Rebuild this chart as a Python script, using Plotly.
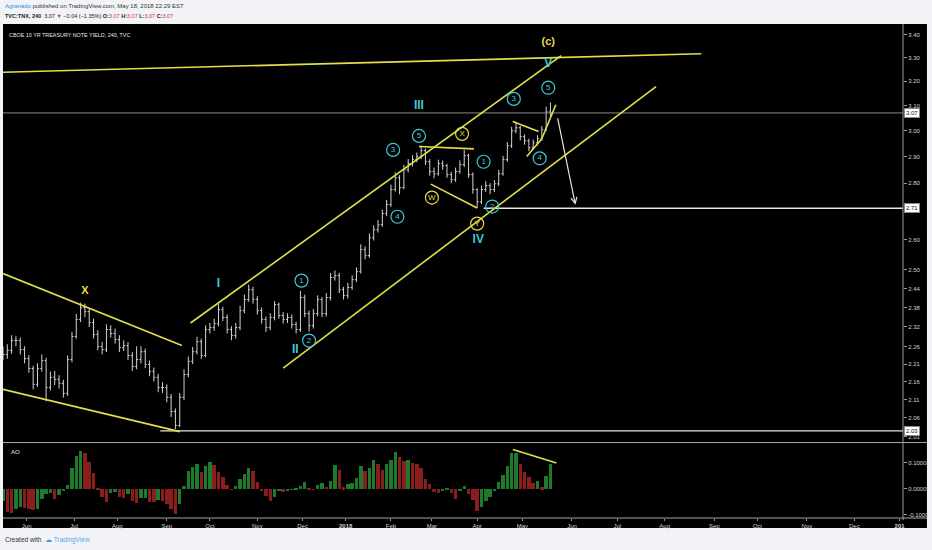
import math
import pandas as pd
import plotly.graph_objects as go

# ---------------- data ----------------
HOLIDAYS = ["2017-05-29", "2017-07-04", "2017-09-04", "2017-11-23", "2017-12-25",
            "2018-01-01", "2018-01-15", "2018-02-19", "2018-03-30"]
# one bar every second trading day, 2017-05-16 .. 2018-05-18
DATES = pd.bdate_range("2017-05-16", "2018-05-18", freq="C", holidays=HOLIDAYS)[::2] + pd.Timedelta(hours=12)

OPEN = [2.245, 2.238, 2.250, 2.279, 2.279, 2.252, 2.226, 2.197, 2.152, 2.197,
        2.220, 2.143, 2.172, 2.166, 2.155, 2.127, 2.223, 2.291, 2.343, 2.379,
        2.367, 2.333, 2.297, 2.261, 2.252, 2.312, 2.300, 2.282, 2.258, 2.264,
        2.235, 2.203, 2.223, 2.246, 2.209, 2.189, 2.172, 2.143, 2.143, 2.116,
        2.077, 2.039, 2.116, 2.180, 2.218, 2.246, 2.276, 2.235, 2.312, 2.318,
        2.330, 2.373, 2.349, 2.312, 2.294, 2.318, 2.370, 2.405, 2.436, 2.405,
        2.370, 2.343, 2.318, 2.349, 2.389, 2.355, 2.343, 2.349, 2.327, 2.312,
        2.411, 2.361, 2.324, 2.361, 2.405, 2.361, 2.411, 2.475, 2.481, 2.436,
        2.417, 2.443, 2.468, 2.494, 2.567, 2.547, 2.607, 2.635, 2.652, 2.691,
        2.723, 2.777, 2.820, 2.784, 2.850, 2.873, 2.888, 2.899, 2.922, 2.880,
        2.843, 2.835, 2.873, 2.865, 2.832, 2.813, 2.843, 2.869, 2.903, 2.832,
        2.777, 2.733, 2.777, 2.791, 2.777, 2.798, 2.835, 2.888, 2.941, 2.999,
        3.011, 2.976, 2.960, 2.933, 2.952, 2.968, 3.003, 3.074]
HIGH = [2.262, 2.268, 2.295, 2.292, 2.288, 2.262, 2.236, 2.205, 2.212, 2.238,
        2.228, 2.188, 2.190, 2.178, 2.165, 2.235, 2.305, 2.360, 2.395, 2.392,
        2.375, 2.345, 2.310, 2.275, 2.328, 2.325, 2.315, 2.295, 2.280, 2.275,
        2.245, 2.262, 2.262, 2.255, 2.220, 2.200, 2.182, 2.158, 2.152, 2.125,
        2.085, 2.128, 2.195, 2.232, 2.260, 2.290, 2.285, 2.325, 2.332, 2.345,
        2.390, 2.382, 2.358, 2.322, 2.332, 2.385, 2.420, 2.452, 2.445, 2.415,
        2.380, 2.352, 2.362, 2.400, 2.395, 2.365, 2.362, 2.358, 2.335, 2.432,
        2.420, 2.370, 2.375, 2.418, 2.412, 2.425, 2.490, 2.498, 2.490, 2.445,
        2.458, 2.482, 2.508, 2.585, 2.578, 2.622, 2.650, 2.668, 2.705, 2.740,
        2.795, 2.840, 2.830, 2.868, 2.890, 2.905, 2.915, 2.942, 2.930, 2.890,
        2.858, 2.888, 2.885, 2.872, 2.842, 2.858, 2.885, 2.925, 2.910, 2.840,
        2.782, 2.792, 2.808, 2.800, 2.812, 2.850, 2.902, 2.955, 3.015, 3.035,
        3.018, 2.985, 2.968, 2.965, 2.982, 3.018, 3.095, 3.112]
LOW = [2.222, 2.225, 2.240, 2.262, 2.238, 2.212, 2.185, 2.138, 2.145, 2.188,
       2.105, 2.135, 2.150, 2.140, 2.115, 2.120, 2.215, 2.285, 2.335, 2.350,
       2.320, 2.285, 2.250, 2.238, 2.245, 2.288, 2.270, 2.245, 2.248, 2.222,
       2.190, 2.195, 2.212, 2.198, 2.175, 2.160, 2.130, 2.128, 2.102, 2.062,
       2.030, 2.035, 2.108, 2.172, 2.210, 2.238, 2.225, 2.230, 2.300, 2.308,
       2.322, 2.338, 2.300, 2.280, 2.285, 2.310, 2.362, 2.398, 2.392, 2.358,
       2.330, 2.305, 2.310, 2.340, 2.345, 2.330, 2.332, 2.315, 2.300, 2.305,
       2.350, 2.306, 2.315, 2.352, 2.350, 2.352, 2.402, 2.465, 2.425, 2.405,
       2.408, 2.435, 2.460, 2.488, 2.535, 2.540, 2.598, 2.625, 2.645, 2.682,
       2.715, 2.770, 2.760, 2.778, 2.840, 2.862, 2.878, 2.890, 2.868, 2.828,
       2.818, 2.828, 2.850, 2.820, 2.800, 2.805, 2.835, 2.860, 2.820, 2.762,
       2.712, 2.725, 2.768, 2.760, 2.768, 2.790, 2.828, 2.880, 2.932, 2.990,
       2.962, 2.945, 2.920, 2.925, 2.942, 2.960, 2.998, 3.050]
CLOSE = [2.238, 2.250, 2.279, 2.279, 2.252, 2.226, 2.197, 2.152, 2.197, 2.220,
         2.143, 2.172, 2.166, 2.155, 2.127, 2.223, 2.291, 2.343, 2.379, 2.367,
         2.333, 2.297, 2.261, 2.252, 2.312, 2.300, 2.282, 2.258, 2.264, 2.235,
         2.203, 2.223, 2.246, 2.209, 2.189, 2.172, 2.143, 2.143, 2.116, 2.077,
         2.039, 2.116, 2.180, 2.218, 2.246, 2.276, 2.235, 2.312, 2.318, 2.330,
         2.373, 2.349, 2.312, 2.294, 2.318, 2.370, 2.405, 2.436, 2.405, 2.370,
         2.343, 2.318, 2.349, 2.389, 2.355, 2.343, 2.349, 2.327, 2.312, 2.411,
         2.361, 2.324, 2.361, 2.405, 2.361, 2.411, 2.475, 2.481, 2.436, 2.417,
         2.443, 2.468, 2.494, 2.567, 2.547, 2.607, 2.635, 2.652, 2.691, 2.723,
         2.777, 2.820, 2.784, 2.850, 2.873, 2.888, 2.899, 2.922, 2.880, 2.843,
         2.835, 2.873, 2.865, 2.832, 2.813, 2.843, 2.869, 2.903, 2.832, 2.777,
         2.733, 2.777, 2.791, 2.777, 2.798, 2.835, 2.888, 2.941, 2.999, 3.011,
         2.976, 2.960, 2.933, 2.952, 2.968, 3.003, 3.074, 3.070]
AO = [-0.044, -0.088, -0.092, -0.075, -0.069, -0.073, -0.075, -0.080, -0.075, -0.039,
      -0.018, -0.015, -0.037, -0.021, -0.006, 0.016, 0.080, 0.126, 0.148, 0.138,
      0.104, 0.061, 0.006, -0.029, -0.050, -0.013, -0.011, -0.029, -0.034, -0.018,
      -0.044, -0.054, -0.035, -0.034, -0.048, -0.049, -0.040, -0.044, -0.058, -0.077,
      -0.093, -0.056, 0.012, 0.068, 0.084, 0.096, 0.064, 0.089, 0.105, 0.091,
      0.065, 0.048, 0.018, -0.003, 0.012, 0.039, 0.060, 0.080, 0.071, 0.027,
      -0.008, -0.026, -0.044, -0.029, -0.006, -0.012, -0.008, -0.003, 0.003, 0.013,
      0.027, 0.001, -0.003, 0.018, 0.025, 0.010, 0.030, 0.091, 0.073, 0.007,
      0.020, 0.025, 0.042, 0.087, 0.070, 0.083, 0.112, 0.096, 0.073, 0.096,
      0.113, 0.144, 0.124, 0.108, 0.111, 0.099, 0.096, 0.082, 0.040, 0.020,
      -0.010, -0.015, -0.006, 0.001, -0.015, -0.037, -0.006, 0.013, -0.018, -0.042,
      -0.082, -0.069, -0.044, -0.031, -0.006, 0.029, 0.055, 0.089, 0.138, 0.139,
      0.096, 0.064, 0.045, 0.022, 0.031, 0.007, 0.051, 0.098]

PRICE_TICKS = [3.40, 3.30, 3.20, 3.10, 3.00, 2.90, 2.80, 2.70, 2.60, 2.50,
               2.44, 2.38, 2.32, 2.26, 2.21, 2.16, 2.11, 2.06, 2.01]
AO_TICKS = [0.1, 0.0, -0.1]
AO_TICK_TEXT = ["0.1000", "0.0000", "-0.1000"]
MONTH_TICKS = ["2017-06-01", "2017-07-03", "2017-08-01", "2017-09-01", "2017-10-02",
               "2017-11-01", "2017-12-01", "2018-01-02", "2018-02-01", "2018-03-01",
               "2018-04-02", "2018-05-01", "2018-06-01", "2018-07-02", "2018-08-01",
               "2018-09-03", "2018-10-01", "2018-11-01", "2018-12-03", "2019-01-01"]
MONTH_LABELS = ["Jun", "Jul", "Aug", "Sep", "Oct", "Nov", "Dec", "<b>2018</b>", "Feb", "Mar",
                "Apr", "May", "Jun", "Jul", "Aug", "Sep", "Oct", "Nov", "Dec", "<b>201</b>"]

X_START, X_END = "2017-05-16 12:00", "2019-01-03 02:00"

# drawings (date, price) pairs
TRENDLINES = [
    ("2017-05-16 12:00", 2.138, "2017-09-12 12:00", 2.023),
    ("2017-05-16 12:00", 2.488, "2017-09-13 12:00", 2.264),
    ("2017-09-19 12:00", 2.332, "2018-05-25 12:00", 3.309),
    ("2017-11-17 12:00", 2.198, "2018-07-26 12:00", 3.178),
    ("2017-05-16 12:00", 3.238, "2018-08-24 12:00", 3.317),
    ("2018-02-21 12:00", 2.938, "2018-03-29 00:00", 2.929),
    ("2018-03-01 00:00", 2.797, "2018-04-02 12:00", 2.711),
    ("2018-04-25 00:00", 3.036, "2018-05-11 00:00", 2.996),
    ("2018-05-03 12:00", 2.900, "2018-05-14 12:00", 2.968),
    ("2018-05-14 12:00", 2.968, "2018-05-23 00:00", 3.103),
]
HLINES = [("2018-04-05 12:00", 2.71, "#e6e6e6", 1.3),
          ("2017-08-29 12:00", 2.025, "#e6e6e6", 1.3),
          (X_START, 3.07, "#8a8a8a", 1.0)]
ROMAN = [("I", "2017-10-06 12:00", 2.455), ("II", "2017-11-28 02:00", 2.252),
         ("III", "2018-02-21 12:00", 3.099), ("IV", "2018-04-03 00:00", 2.601),
         ("V", "2018-05-17 12:00", 3.274)]
YELLOW_TEXT = [("X", "2017-07-11 12:00", 2.430), ("(c)", "2018-05-17 12:00", 3.369)]
CIRCLED_TEAL = [("1", "2017-12-01 00:00", 2.465), ("2", "2017-12-06 12:00", 2.279),
                ("3", "2018-02-02 12:00", 2.925), ("4", "2018-02-06 12:00", 2.680),
                ("5", "2018-02-21 12:00", 2.979), ("1", "2018-04-05 12:00", 2.880),
                ("2", "2018-04-11 12:00", 2.716), ("3", "2018-04-25 12:00", 3.127),
                ("4", "2018-05-11 12:00", 2.893), ("5", "2018-05-17 12:00", 3.173)]
CIRCLED_YELLOW = [("W", "2018-03-01 12:00", 2.748), ("X", "2018-03-21 12:00", 2.987),
                  ("Y", "2018-04-02 12:00", 2.656)]
AO_LINE = [("2018-04-25 02:00", 0.150), ("2018-05-23 07:00", 0.098)]
ARROW_HEAD = ("2018-06-05 02:00", 2.722)

TEAL = "#3fc9d6"
YELLOW = "#e2df4a"
FONT = "Liberation Sans"

# ---------------- figure ----------------
fig = go.Figure()

fig.add_trace(go.Ohlc(x=DATES, open=OPEN, high=HIGH, low=LOW, close=CLOSE,
                      increasing_line_color="#d2d2d2", decreasing_line_color="#d2d2d2",
                      line_width=1, tickwidth=0.35, hoverinfo="skip"))

ao_colors = ["#1e7b2c" if i == 0 or AO[i] >= AO[i - 1] else "#8a1e1e" for i in range(len(AO))]
fig.add_trace(go.Bar(x=DATES, y=AO, marker_color=ao_colors, marker_line_width=0,
                     width=1.6 * 86400000, yaxis="y2", hoverinfo="skip"))

for d, p, c, w in HLINES:
    fig.add_trace(go.Scatter(x=[d, X_END], y=[p, p], mode="lines",
                             line=dict(color=c, width=w), hoverinfo="skip"))

for d0, p0, d1, p1 in TRENDLINES:
    fig.add_trace(go.Scatter(x=[d0, d1], y=[p0, p1], mode="lines",
                             line=dict(color=YELLOW, width=1.6), hoverinfo="skip"))

fig.add_trace(go.Scatter(x=[a[0] for a in AO_LINE], y=[a[1] for a in AO_LINE], mode="lines",
                         line=dict(color=YELLOW, width=1.6), yaxis="y2", hoverinfo="skip"))

fig.add_trace(go.Scatter(x=[r[1] for r in ROMAN], y=[r[2] for r in ROMAN], text=[r[0] for r in ROMAN],
                         mode="text", textfont=dict(color=TEAL, size=12, family=FONT),
                         texttemplate="<b>%{text}</b>", cliponaxis=False, hoverinfo="skip"))
fig.add_trace(go.Scatter(x=[r[1] for r in YELLOW_TEXT], y=[r[2] for r in YELLOW_TEXT],
                         text=[r[0] for r in YELLOW_TEXT], mode="text",
                         textfont=dict(color=YELLOW, size=11, family=FONT),
                         texttemplate="<b>%{text}</b>", cliponaxis=False, hoverinfo="skip"))
for pts, col in ((CIRCLED_TEAL, TEAL), (CIRCLED_YELLOW, YELLOW)):
    fig.add_trace(go.Scatter(x=[r[1] for r in pts], y=[r[2] for r in pts], text=[r[0] for r in pts],
                             mode="markers+text", textposition="middle center",
                             marker=dict(symbol="circle-open", size=13, color=col, line=dict(width=1.2, color=col)),
                             textfont=dict(color=col, size=8, family=FONT),
                             cliponaxis=False, hoverinfo="skip"))

axis_col = "#9a9a9a"
lab_col = "#d4d4d4"
fig.update_layout(
    width=932, height=550, autosize=False,
    margin=dict(l=3, r=27, t=24, b=32),
    paper_bgcolor="#f1f3f7", plot_bgcolor="#000000",
    showlegend=False, hovermode=False, bargap=0,
    font=dict(family=FONT, size=6, color=lab_col),
    xaxis=dict(type="date", range=[X_START, X_END], anchor="y2",
               rangebreaks=[dict(bounds=["sat", "mon"]), dict(values=HOLIDAYS)],
               rangeslider=dict(visible=False),
               tickvals=[pd.Timestamp(t) + pd.Timedelta(hours=12) for t in MONTH_TICKS],
               ticktext=MONTH_LABELS, ticks="outside", ticklen=2, tickcolor=axis_col,
               tickfont=dict(size=6, color=lab_col), showgrid=False, zeroline=False,
               showline=False),
    yaxis=dict(type="log", domain=[0.1549, 1.0], side="right",
               range=[math.log10(1.997), math.log10(3.449)],
               tickvals=PRICE_TICKS, ticktext=[f"{v:.2f}" for v in PRICE_TICKS],
               ticks="outside", ticklen=3, tickcolor=axis_col,
               tickfont=dict(size=6, color=lab_col), showgrid=False, zeroline=False,
               showline=False),
    yaxis2=dict(domain=[0.0, 0.1508], side="right", anchor="x",
                range=[-0.112, 0.173], tickvals=AO_TICKS, ticktext=AO_TICK_TEXT,
                ticks="outside", ticklen=3, tickcolor=axis_col,
                tickfont=dict(size=6, color=lab_col), showgrid=False, zeroline=False,
                showline=False),
)

# black chart frame and separators (paper coordinates)
W, H = 902.0, 494.0
def px(xp):
    return (xp - 3) / W
def py(yp):
    return (518 - yp) / H

shapes = [
    dict(type="rect", xref="paper", yref="paper", x0=px(3), x1=px(929), y0=py(528), y1=py(24),
         fillcolor="#000000", line_width=0, layer="below"),
    dict(type="line", xref="paper", yref="paper", x0=px(3), x1=px(929), y0=py(442.5), y1=py(442.5),
         line=dict(color="#a8a8a8", width=1)),
    dict(type="line", xref="paper", yref="paper", x0=px(3), x1=px(929), y0=py(518), y1=py(518),
         line=dict(color="#a8a8a8", width=1)),
    dict(type="line", xref="paper", yref="paper", x0=px(905), x1=px(905), y0=py(520), y1=py(24),
         line=dict(color=axis_col, width=1)),
]
fig.update_layout(shapes=shapes)

ann = []
# header
ann.append(dict(xref="paper", yref="paper", x=px(3), y=py(6), xanchor="left", yanchor="middle",
                showarrow=False, font=dict(size=6.0, color="#333333", family=FONT),
                text='<span style="color:#2a8fe0">Agranado</span> published on TradingView.com, May 18, 2018 22:29 EST'))
ann.append(dict(xref="paper", yref="paper", x=px(3), y=py(16), xanchor="left", yanchor="middle",
                showarrow=False, font=dict(size=5.5, color="#222222", family=FONT),
                text='<b>TVC:TNX, 240</b>  3.07 <span style="color:#d32f2f">▼</span> −0.04 (−1.35%) '
                     '<b>O:</b><span style="color:#d32f2f">3.07</span> <b>H:</b><span style="color:#d32f2f">3.07</span> '
                     '<b>L:</b><span style="color:#d32f2f">3.07</span> <b>C:</b><span style="color:#d32f2f">3.07</span>'))
ann.append(dict(xref="paper", yref="paper", x=px(7), y=py(35), xanchor="left", yanchor="middle",
                showarrow=False, font=dict(size=5.4, color="#e8e8e8", family=FONT),
                text="CBOE 10 YR TREASURY NOTE YIELD, 240, TVC"))
ann.append(dict(xref="paper", yref="paper", x=px(9), y=py(452), xanchor="left", yanchor="middle",
                showarrow=False, font=dict(size=6, color="#e8e8e8", family=FONT), text="AO"))
# footer
ann.append(dict(xref="paper", yref="paper", x=px(3), y=py(540), xanchor="left", yanchor="middle",
                showarrow=False, font=dict(size=6.5, color="#333333", family=FONT),
                text='Created with  <span style="color:#3d9be9">☁</span> <span style="color:#5aa9e6">TradingView</span>'))
# price labels on the right axis
for val, txt in ((3.07, "3.07"), (2.71, "2.71"), (2.025, "2.03")):
    ann.append(dict(xref="paper", yref="y", x=1.0, y=math.log10(val), xanchor="left", yanchor="middle",
                    xshift=1, showarrow=False, text=txt, bgcolor="#ffffff", bordercolor="#888888",
                    borderwidth=1, borderpad=1, font=dict(size=6, color="#111111", family=FONT)))
# projection arrow
ann.append(dict(xref="x", yref="y", x=ARROW_HEAD[0], y=math.log10(ARROW_HEAD[1]), ax=-18, ay=-88,
                showarrow=True, arrowhead=5, arrowsize=1, arrowwidth=1.2, arrowcolor="#e8e8e8", text=""))
fig.update_layout(annotations=ann)

fig.write_html("out.html", config={"displayModeBar": False},
               post_script="document.body.style.margin='0';document.body.style.padding='0';"
                           "document.body.style.background='#f1f3f7';")
